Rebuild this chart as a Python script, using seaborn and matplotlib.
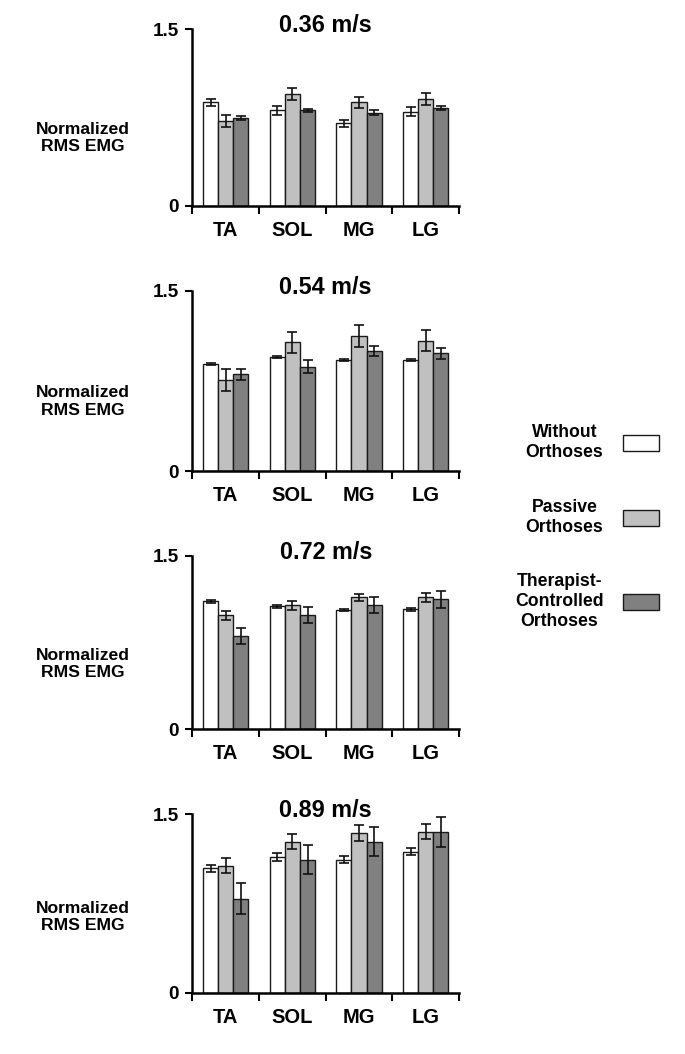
import pandas as pd
import numpy as np
import seaborn as sns
import matplotlib.pyplot as plt
from matplotlib.ticker import FixedLocator

# Muscles, conditions and walking speeds
muscles = ["TA", "SOL", "MG", "LG"]
conditions = ["Without\nOrthoses", "Passive\nOrthoses", "Therapist-\nControlled\nOrthoses"]
speeds = ["0.36 m/s", "0.54 m/s", "0.72 m/s", "0.89 m/s"]

# Normalized RMS EMG means (one list per condition, order TA, SOL, MG, LG)
without_036 = [0.88, 0.81, 0.70, 0.80]
passive_036 = [0.72, 0.95, 0.88, 0.91]
therapist_036 = [0.75, 0.81, 0.79, 0.83]
without_054 = [0.89, 0.946, 0.923, 0.923]
passive_054 = [0.757, 1.07, 1.123, 1.084]
therapist_054 = [0.804, 0.868, 0.998, 0.979]
without_072 = [1.107, 1.064, 1.03, 1.035]
passive_072 = [0.986, 1.073, 1.139, 1.139]
therapist_072 = [0.805, 0.986, 1.073, 1.122]
without_089 = [1.046, 1.139, 1.119, 1.186]
passive_089 = [1.066, 1.268, 1.343, 1.354]
therapist_089 = [0.791, 1.119, 1.268, 1.354]

# Standard errors
without_036_se = [0.03, 0.035, 0.03, 0.038]
passive_036_se = [0.05, 0.047, 0.048, 0.052]
therapist_036_se = [0.017, 0.014, 0.02, 0.017]
without_054_se = [0.008, 0.008, 0.008, 0.008]
passive_054_se = [0.09, 0.085, 0.089, 0.087]
therapist_054_se = [0.046, 0.053, 0.039, 0.048]
without_072_se = [0.012, 0.012, 0.012, 0.012]
passive_072_se = [0.039, 0.039, 0.032, 0.042]
therapist_072_se = [0.066, 0.072, 0.072, 0.072]
without_089_se = [0.031, 0.034, 0.032, 0.032]
passive_089_se = [0.063, 0.064, 0.064, 0.063]
therapist_089_se = [0.129, 0.125, 0.123, 0.126]

means = [
    [without_036, passive_036, therapist_036],
    [without_054, passive_054, therapist_054],
    [without_072, passive_072, therapist_072],
    [without_089, passive_089, therapist_089],
]
errors = [
    [without_036_se, passive_036_se, therapist_036_se],
    [without_054_se, passive_054_se, therapist_054_se],
    [without_072_se, passive_072_se, therapist_072_se],
    [without_089_se, passive_089_se, therapist_089_se],
]

palette = ["#ffffff", "#c0c0c0", "#808080"]

sns.set_style("ticks")
plt.rcParams['font.family'] = ['Liberation Sans', 'DejaVu Sans']
plt.rcParams['font.weight'] = 'bold'
for key in ['text.color', 'axes.labelcolor', 'xtick.color', 'ytick.color', 'axes.edgecolor']:
    plt.rcParams[key] = 'black'

fig = plt.figure(figsize=(6.85, 10.54), dpi=100)

# axes boxes in figure fractions [left, bottom, width, height]
boxes = [
    [0.281, 0.8048, 0.389, 0.1674],
    [0.281, 0.5531, 0.389, 0.1711],
    [0.281, 0.3083, 0.389, 0.1644],
    [0.281, 0.0582, 0.389, 0.1693],
]
label_y = [0.385, 0.385, 0.375, 0.425]

handles, labels = None, None
for i, speed in enumerate(speeds):
    ax = fig.add_axes(boxes[i])
    rows = []
    for c, cond in enumerate(conditions):
        for m, mus in enumerate(muscles):
            rows.append({"muscle": mus, "condition": cond,
                         "value": means[i][c][m], "se": errors[i][c][m]})
    df = pd.DataFrame(rows)
    sns.barplot(data=df, x="muscle", y="value", hue="condition",
                order=muscles, hue_order=conditions, palette=palette,
                edgecolor="#1a1a1a", linewidth=1.0, width=0.68,
                errorbar=None, legend=(i == 0), ax=ax)

    # error bars on top of each bar
    bar_conts = list(ax.containers)
    for c, cont in enumerate(bar_conts):
        xs = [p.get_x() + p.get_width() / 2 for p in cont.patches]
        ys = [p.get_height() for p in cont.patches]
        ax.errorbar(xs, ys, yerr=errors[i][c], fmt='none', ecolor='#111111',
                    elinewidth=1.2, capsize=3.5, capthick=1.2, zorder=5)

    if i == 0:
        handles, labels = ax.get_legend_handles_labels()
        ax.legend_.remove()

    ax.set_xlim(-0.5, 3.5)
    ax.set_ylim(0, 1.5)
    ax.set_yticks([0, 1.5])
    ax.set_yticklabels(["0", "1.5"])
    ax.set_xlabel("")
    ax.set_ylabel("")
    sns.despine(ax=ax)
    for s in ["left", "bottom"]:
        ax.spines[s].set_linewidth(1.8)
    ax.tick_params(axis='y', length=5, width=1.5, pad=5, labelsize=13.6)
    ax.tick_params(axis='x', which='major', length=0, pad=11, labelsize=14.5)
    ax.xaxis.set_minor_locator(FixedLocator([-0.5, 0.5, 1.5, 2.5, 3.5]))
    ax.tick_params(axis='x', which='minor', length=6, width=1.5, direction='out')

    ax.text(0.5, 1.02, speed, transform=ax.transAxes, ha='center', va='center',
            fontsize=16.8, fontweight='bold')
    ax.text(-0.413, label_y[i], "Normalized\nRMS EMG", transform=ax.transAxes,
            ha='center', va='center', multialignment='center',
            fontsize=12.6, fontweight='bold')

leg = fig.legend(handles, labels, loc='center right', bbox_to_anchor=(0.962, 0.5),
                 markerfirst=False, frameon=False, fontsize=12.7,
                 handlelength=2.05, handleheight=1.05, labelspacing=2.15,
                 handletextpad=1.1, borderpad=0, borderaxespad=0)
for t in leg.get_texts():
    t.set_multialignment('center')

fig.savefig("out.png", dpi=100)
